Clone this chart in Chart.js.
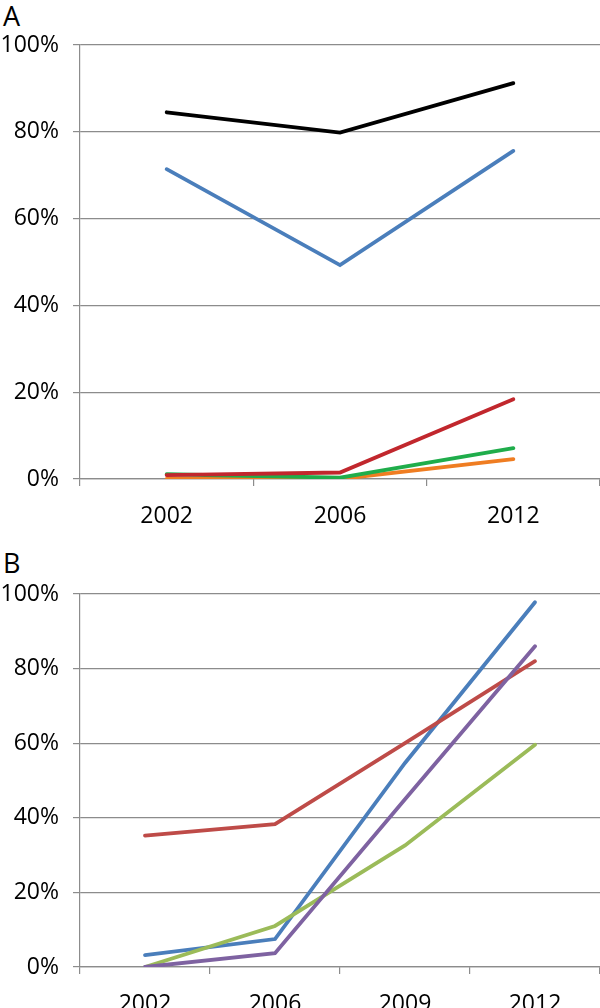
<!DOCTYPE html>
<html>
<head>
<meta charset="utf-8">
<script src="https://cdn.jsdelivr.net/npm/chart.js@4"></script>
<style>
  html, body { margin: 0; padding: 0; background: #fff; }
  body { width: 600px; height: 1008px; position: relative; overflow: hidden; font-family: 'Open Sans', sans-serif; }
  .panel-label { position: absolute; left: 3px; font-size: 27px; color: #000; line-height: 1; }
  .wrap { position: absolute; left: 0; width: 600px; }
</style>
</head>
<body>
<div class="panel-label" style="top:2px">A</div>
<div class="wrap" style="top:0; height:530px"><canvas id="chartA"></canvas></div>
<div class="panel-label" style="top:549px">B</div>
<div class="wrap" style="top:530px; height:478px"><canvas id="chartB"></canvas></div>

<script>
// Panel A
var yearsA = ['2002', '2006', '2012'];
var blackA = [84.5, 79.8, 91.2];
var blueA = [71.4, 49.3, 75.6];
var redA = [0.9, 1.5, 18.4];
var greenA = [1.1, 0.3, 7.1];
var orangeA = [0, 0, 4.6];

// Panel B
var yearsB = ['2002', '2006', '2009', '2012'];
var blueB = [3.2, 7.5, 54.7, 97.8];
var redB = [35.2, 38.3, 60.0, 82.0];
var greenB = [0, 11.0, 32.6, 59.6];
var purpleB = [0, 3.7, 45.0, 86.0];

var yTicks = [0, 20, 40, 60, 80, 100];

var gridColor = '#8c8c8c';
var fontSpec = { family: "'Open Sans', sans-serif", size: 23 };

function line(data, color, order) {
  return {
    data: data,
    borderColor: color,
    backgroundColor: color,
    borderWidth: 3.8,
    borderCapStyle: 'round',
    borderJoinStyle: 'miter',
    pointRadius: 0,
    tension: 0,
    fill: false,
    order: order
  };
}

function makeChart(id, labels, datasets, padTop, xHeight) {
  return new Chart(document.getElementById(id), {
    type: 'line',
    data: { labels: labels, datasets: datasets },
    options: {
      responsive: true,
      maintainAspectRatio: false,
      animation: false,
      layout: { padding: { top: padTop, right: 0, left: 0, bottom: 0 } },
      plugins: { legend: { display: false }, tooltip: { enabled: false } },
      scales: {
        x: {
          offset: true,
          grid: { display: true, offset: true, drawOnChartArea: false, drawTicks: true, tickLength: 7, color: gridColor, lineWidth: 1.2 },
          border: { display: true, color: gridColor, width: 1.2 },
          ticks: { color: '#000', font: fontSpec, padding: 17, maxRotation: 0, autoSkip: false },
          afterFit: function (scale) { scale.height = xHeight; }
        },
        y: {
          min: 0,
          max: 100,
          afterBuildTicks: function (scale) {
            scale.ticks = yTicks.map(function (v) { return { value: v }; });
          },
          grid: { display: true, drawTicks: true, tickLength: 7, color: gridColor, lineWidth: 1.2 },
          border: { display: true, color: gridColor, width: 1.2 },
          ticks: {
            color: '#000',
            font: fontSpec,
            padding: 14,
            callback: function (v) { return v + '%'; }
          },
          afterFit: function (scale) { scale.width = 80; }
        }
      }
    }
  });
}

makeChart('chartA', yearsA, [
  line(blackA, '#000000', 5),
  line(blueA, '#4a7ebb', 4),
  line(redA, '#c1272d', 1),
  line(greenA, '#1fad4b', 2),
  line(orangeA, '#ef7d22', 3)
], 45, 51);

makeChart('chartB', yearsB, [
  line(blueB, '#4a7ebb', 4),
  line(redB, '#be4b48', 3),
  line(greenB, '#9bbb59', 2),
  line(purpleB, '#7e62a1', 1)
], 64, 41);
</script>
</body>
</html>
